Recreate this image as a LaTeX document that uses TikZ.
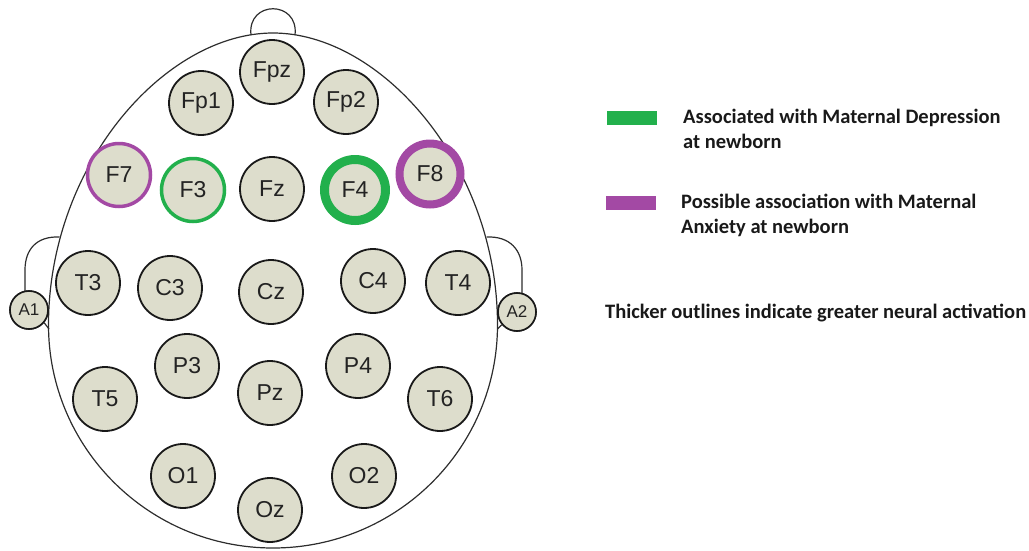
\documentclass[tikz,border=0pt]{standalone}
\usepackage{fontspec}
\setmainfont{Liberation Sans}
\newfontfamily\legfont{Carlito}
\definecolor{elecfill}{RGB}{221,221,204}
\definecolor{elecline}{RGB}{25,25,25}
\definecolor{headline}{RGB}{45,45,45}
\definecolor{depgreen}{RGB}{34,176,76}
\definecolor{anxpurple}{RGB}{163,73,164}
\definecolor{labeltext}{RGB}{35,35,35}
\definecolor{legtext}{RGB}{25,25,25}
\tikzset{
  elec/.style={circle, draw=elecline, line width=1.8pt, fill=elecfill, minimum size=64pt, inner sep=0pt, text=labeltext, font=\fontsize{23}{23}\selectfont},
  ref/.style={circle, draw=elecline, line width=1.6pt, fill=elecfill, minimum size=38pt, inner sep=0pt, text=labeltext, font=\fontsize{17}{17}\selectfont},
  greenthin/.style={draw=depgreen, line width=3.5pt, minimum size=63pt},
  greenthick/.style={draw=depgreen, line width=9pt, minimum size=61pt},
  purplethin/.style={draw=anxpurple, line width=3.5pt, minimum size=63pt},
  purplethick/.style={draw=anxpurple, line width=8pt, minimum size=61pt},
  headstroke/.style={draw=headline, line width=1.2pt},
  legbox/.style={rectangle, minimum width=50pt, minimum height=14pt, inner sep=0pt},
  legtxt/.style={anchor=west, align=left, text=legtext, font=\legfont\bfseries\fontsize{20.5}{25}\selectfont, inner sep=0pt},
}
\begin{document}
\begin{tikzpicture}[x=1pt,y=-1pt]
\useasboundingbox (0,0) rectangle (1029,550);
% head outline
\draw[headstroke] (48.5,325) .. controls (48.5,165) and (165,33) .. (273,33)
  .. controls (381,33) and (497.5,165) .. (497.5,325)
  arc[start angle=0, end angle=180, x radius=224.5, y radius=223] -- cycle;
% nose
\draw[headstroke] (251,35) .. controls (247,0) and (299,0) .. (295,35);
% ears
\coordinate (lear1) at (59.5,237);
\coordinate (lear2) at (49,329);
\coordinate (rear1) at (486.5,237);
\coordinate (rear2) at (497.5,329);
\node[ref] (A1) at (29,310) {A1};
\node[ref] (A2) at (517,312) {A2};
\draw[headstroke] (lear1) .. controls (36,236) and (25,250) .. (25,270) -- (25,292);
\draw[headstroke] (A1.-40) -- (lear2);
\draw[headstroke] (rear1) .. controls (510,236) and (522,250) .. (522,270) -- (522,294);
\draw[headstroke] (A2.-140) -- (rear2);
\node[ref] at (A1) {A1};
\node[ref] at (A2) {A2};
% electrodes
\node[elec] (Fpz) at (272,72) {Fpz};
\node[elec] (Fp1) at (201,103) {Fp1};
\node[elec] (Fp2) at (346,102) {Fp2};
\node[elec, purplethin] (F7) at (119,175) {F7};
\node[elec, greenthin] (F3) at (193,190) {F3};
\node[elec] (Fz) at (272,189) {Fz};
\node[elec, greenthick] (F4) at (355,190) {F4};
\node[elec, purplethick] (F8) at (430,174) {F8};
\node[elec] (T3) at (88,283) {T3};
\node[elec] (C3) at (170,288) {C3};
\node[elec] (Cz) at (271,292) {Cz};
\node[elec] (C4) at (373,281) {C4};
\node[elec] (T4) at (458,283) {T4};
\node[elec] (P3) at (187,366) {P3};
\node[elec] (Pz) at (270,393) {Pz};
\node[elec] (P4) at (358,366) {P4};
\node[elec] (T5) at (105,399) {T5};
\node[elec] (T6) at (440,399) {T6};
\node[elec] (O1) at (183,476) {O1};
\node[elec] (O2) at (364,476) {O2};
\node[elec] (Oz) at (270,510) {Oz};
% legend
\node[legbox, fill=depgreen] (lgreen) at (632,118) {};
\node[legbox, fill=anxpurple] (lpurple) at (631,203) {};
\node[legtxt] (tgreen) at (683,129) {Associated with Maternal Depression\\at newborn};
\node[legtxt] (tpurple) at (681,215) {Possible association with Maternal\\Anxiety at newborn};
\node[legtxt] (tnote) at (605,313) {Thicker outlines indicate greater neural activation};
\end{tikzpicture}
\end{document}
